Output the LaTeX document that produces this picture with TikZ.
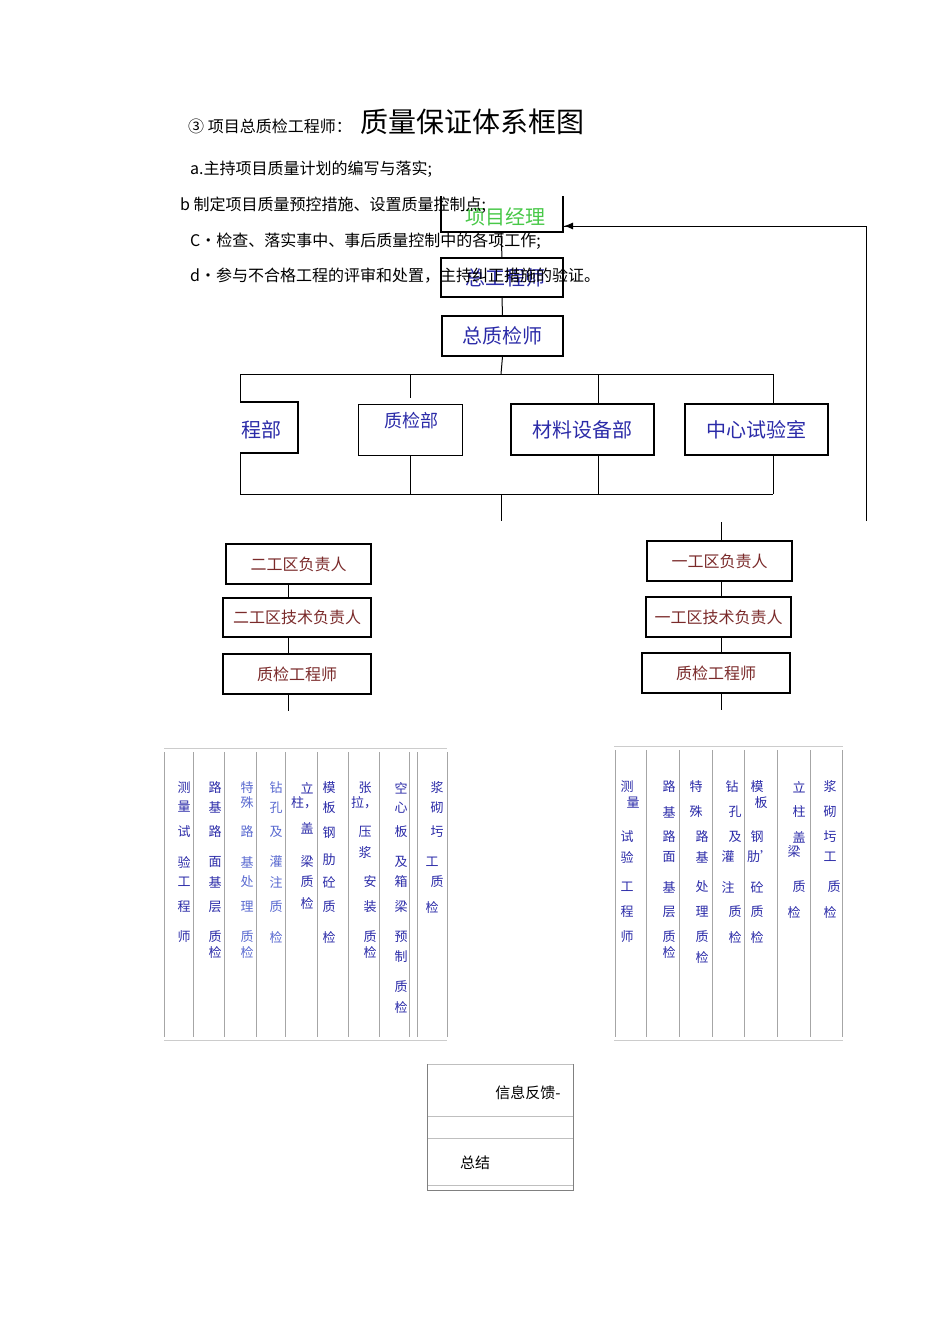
\documentclass[tikz,border=0pt]{standalone}
\usepackage{fontspec}
\setmainfont{Noto Sans CJK SC}
\usetikzlibrary{arrows.meta}
\definecolor{bl}{HTML}{2B2BA8}
\definecolor{lb}{HTML}{5A6AD0}
\definecolor{dr}{HTML}{7A2A2A}
\definecolor{gr}{HTML}{48C848}
\tikzset{
 box/.style={draw,line width=1.2pt,inner sep=0pt},
 lbl/.style={font=\fontsize{20}{20}\selectfont,text=bl},
 sub/.style={font=\fontsize{16}{16}\selectfont,text=dr},
 ln/.style={line width=1pt},
 tc/.style={font=\fontsize{13}{13}\selectfont,text=bl,inner sep=0pt},
 tl/.style={draw=gray!70,line width=0.8pt},
 body/.style={font=\fontsize{16}{16}\selectfont,anchor=west,inner sep=0pt}
}
\begin{document}
\begin{tikzpicture}[x=1pt,y=-1pt]
\useasboundingbox (0,0) rectangle (950,1344);
% header text
\node[anchor=base west,inner sep=0pt,font=\fontsize{16}{16}\selectfont] (t0) at (188,132) {③\ 项目总质检工程师：};
\node[anchor=base west,inner sep=0pt,font=\fontsize{28}{28}\selectfont] (t1) at (360,132) {质量保证体系框图};
\node[body] (la) at (190,169) {a.主持项目质量计划的编写与落实;};
% boxes
\draw[box] (441,196) -- (441,232) -- (563,232) -- (563,196);
\node[font=\fontsize{20}{20}\selectfont,text=gr] (pm) at (505,217) {项目经理};
\node[box,minimum width=122pt,minimum height=39pt] (ze) at (502,277.5) {};
\node[lbl] at (505,278) {总工程师};
\node[body] (lb) at (180,205) {b 制定项目质量预控措施、设置质量控制点;};
\node[body] (lc) at (190,241) {C•检查、落实事中、事后质量控制中的各项工作;};
\node[body] (ld) at (190,276) {d•参与不合格工程的评审和处置，主持纠正措施的验证。};
\node[box,minimum width=121pt,minimum height=40pt,lbl] (zz) at (502.5,336) {总质检师};
\coordinate (fb) at (866,521);
\coordinate (fa) at (866,226);
\draw[ln] (fb) -- (fa) -- (563,226);
\draw[-{Latex[length=9pt,width=7pt]},line width=1pt] (600,226) -- (564,226);
\draw[ln] (501,232) -- (ze.north);
\draw[ln] (ze.south) -- (zz.north);
\draw[ln] (zz.south) -- (501,374);
\draw[ln] (240,374) -- (773,374);
\draw[ln] (240,374) -- (240,402);
\draw[ln] (410,374) -- (410,398);
\draw[ln] (598,374) -- (598,404);
\draw[ln] (773,374) -- (773,404);
\draw[box] (240,402) -- (298,402) -- (298,453) -- (240,453);
\node[lbl] (gc) at (261,430) {程部};
\node[draw,line width=0.8pt,minimum width=104pt,minimum height=51pt] (zj) at (410,429.5) {};
\node[font=\fontsize{18}{18}\selectfont,text=bl] at (411,421) {质检部};
\node[box,minimum width=143pt,minimum height=51pt,lbl] (cl) at (582.5,429.5) {材料设备部};
\node[box,minimum width=143pt,minimum height=51pt,lbl] (zx) at (756.5,429.5) {中心试验室};
\draw[ln] (240,453) -- (240,494) -- (773,494);
\draw[ln] (zj.south) -- (410,494);
\draw[ln] (598,455) -- (598,494);
\draw[ln] (773,455) -- (773,494);
\draw[ln] (501,494) -- (501,521);
% left chain
\node[box,minimum width=145pt,minimum height=40pt,sub] (l1) at (298.5,564) {二工区负责人};
\node[box,minimum width=148pt,minimum height=39pt,sub] (l2) at (297,617.5) {二工区技术负责人};
\node[box,minimum width=148pt,minimum height=40pt,sub] (l3) at (297,674) {质检工程师};
\draw[line width=0.6pt] (288,584) -- (288,598) (288,637) -- (288,654) (288,694) -- (288,711);
% right chain
\node[box,minimum width=145pt,minimum height=40pt,sub] (r1) at (719.5,561) {一工区负责人};
\node[box,minimum width=145pt,minimum height=40pt,sub] (r2) at (718.5,617) {一工区技术负责人};
\node[box,minimum width=148pt,minimum height=40pt,sub] (r3) at (716,673) {质检工程师};
\draw[line width=0.6pt] (721,522) -- (721,541) (721,581) -- (721,597) (721,637) -- (721,653) (721,693) -- (721,710);
% left table
\draw[draw=gray!40,line width=0.8pt] (164,748) -- (447,748) (164,1040) -- (447,1040);
\foreach \x in {164,193,224,256,285,317,348,379,409,417,447} \draw[tl] (\x,752) -- (\x,1037);
\foreach \c/\y in {测/788,量/807,试/832,验/862,工/882,程/907,师/937} \node[tc] at (184,\y) {\c};
\foreach \c/\y in {路/788,基/807,路/832,面/862,基/882,层/907,质/937,检/952} \node[tc] at (215,\y) {\c};
\foreach \c/\y in {特/788,殊/803,路/832,基/862,处/882,理/907,质/937,检/952} \node[tc,text=lb] at (247,\y) {\c};
\foreach \c/\y in {钻/788,孔/808,及/832,灌/862,注/882,质/907,检/937} \node[tc,text=lb] at (276,\y) {\c};
\foreach \c/\y in {立/788,盖/828,梁/862,质/882,检/903} \node[tc] at (307,\y) {\c};
\node[tc] at (304,803) {柱，};
\foreach \c/\y in {模/788,板/808,钢/833,肋/860,砼/882,质/907,检/937} \node[tc] at (329,\y) {\c};
\foreach \c/\y in {张/788,压/832,浆/853} \node[tc] at (365,\y) {\c};
\node[tc] at (364,803) {拉，};
\foreach \c/\y in {安/882,装/907,质/937,检/952} \node[tc] at (370,\y) {\c};
\foreach \c/\y in {空/788,心/808,板/832,及/862,箱/882,梁/907,预/937,制/957,质/987,检/1007} \node[tc] at (401,\y) {\c};
\foreach \c/\y in {浆/788,砌/808,圬/832,质/882} \node[tc] at (437,\y) {\c};
\foreach \c/\y in {工/862,检/907} \node[tc] at (432,\y) {\c};
% right table
\draw[draw=gray!40,line width=0.8pt] (614,746) -- (843,746) (614,1040) -- (843,1040);
\foreach \x in {615,646,679,712,744,777,810,842} \draw[tl] (\x,750) -- (\x,1037);
\foreach \c/\x/\y in {测/627/787,量/633/803,试/627/837,验/627/857,工/627/887,程/627/912,师/627/937} \node[tc] at (\x,\y) {\c};
\foreach \c/\y in {路/787,基/812,路/837,面/857,基/887,层/912,质/937,检/952} \node[tc] at (669,\y) {\c};
\foreach \c/\x/\y in {特/696/787,殊/696/812,路/702/837,基/702/857,处/702/887,理/702/912,质/702/937,检/702/957} \node[tc] at (\x,\y) {\c};
\foreach \c/\x/\y in {钻/732/787,孔/735/812,及/735/837,灌/728/857,注/728/887,质/735/912,检/735/937} \node[tc] at (\x,\y) {\c};
\foreach \c/\x/\y in {模/757/787,板/761/803,钢/757/837,砼/757/887,质/757/912,检/757/937} \node[tc] at (\x,\y) {\c};
\node[tc] at (760,857) {肋'};
\foreach \c/\x/\y in {立/799/787,柱/799/812,盖/799/837,梁/794/852,质/799/887,检/794/912} \node[tc] at (\x,\y) {\c};
\foreach \c/\x/\y in {浆/830/787,砌/830/812,圬/830/837,工/830/857,质/834/887,检/830/912} \node[tc] at (\x,\y) {\c};
% bottom box
\draw[draw=gray!50,line width=0.8pt] (427,1064) -- (573,1064) (427,1116) -- (573,1116) (427,1138) -- (573,1138) (427,1185) -- (573,1185);
\draw[draw=gray,line width=0.8pt] (427,1064) -- (427,1190) -- (573,1190) -- (573,1064);
\node[font=\fontsize{15}{15}\selectfont] (fk) at (528,1093) {信息反馈-};
\node[font=\fontsize{15}{15}\selectfont] (zj2) at (475,1163) {总结};
\end{tikzpicture}
\end{document}
